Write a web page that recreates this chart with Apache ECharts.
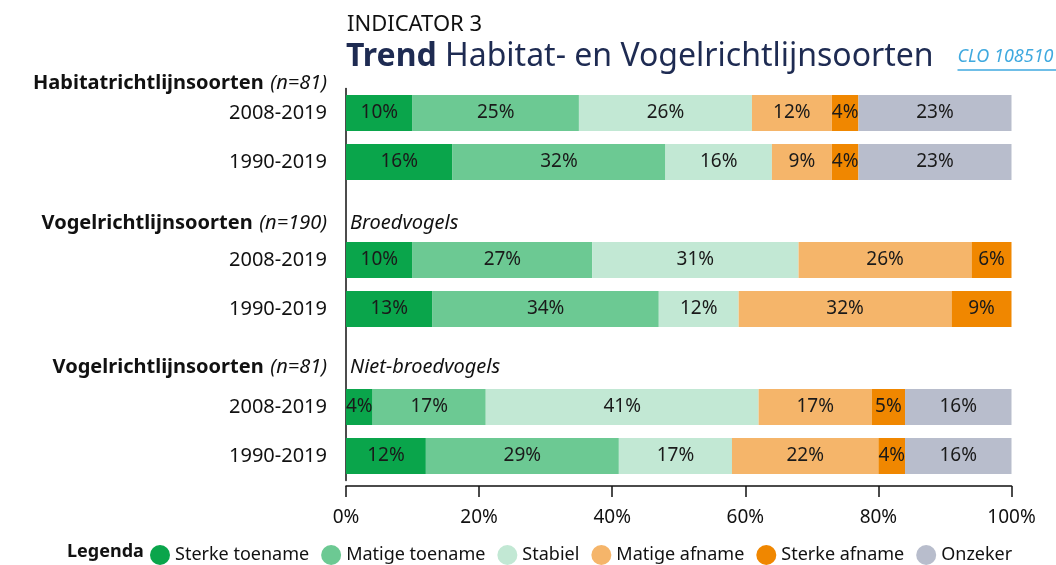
<!DOCTYPE html>
<html>
<head>
<meta charset="utf-8">
<script src="https://cdn.jsdelivr.net/npm/echarts@6/dist/echarts.min.js"></script>
<style>
  html, body { margin: 0; padding: 0; background: #fff; }
  #chart { width: 1056px; height: 565px; }
</style>
</head>
<body>
<div id="chart"></div>
<script>
// rows from top to bottom, '' = empty slot between the groups
const periods = ['2008-2019', '1990-2019', '', '2008-2019', '1990-2019', '', '2008-2019', '1990-2019']

const trendNames = ['Sterke toename', 'Matige toename', 'Stabiel', 'Matige afname', 'Sterke afname', 'Onzeker']
const trendColors = ['#0aa54b', '#6cc993', '#c2e8d4', '#f5b56a', '#f08700', '#b8bdcc']

// percentages per trend class, one value per row
const sterkeToename = [10, 16, '-', 10, 13, '-', 4, 12]
const matigeToename = [25, 32, '-', 27, 34, '-', 17, 29]
const stabiel = [26, 16, '-', 31, 12, '-', 41, 17]
const matigeAfname = [12, 9, '-', 26, 32, '-', 17, 22]
const sterkeAfname = [4, 4, '-', 6, 9, '-', 5, 4]
const onzeker = [23, 23, '-', '-', '-', '-', 16, 16]

const xTicks = [0, 20, 40, 60, 80, 100]

const groupTitles = [
    { name: 'Habitatrichtlijnsoorten', n: '(n=81)', sub: '' },
    { name: 'Vogelrichtlijnsoorten', n: '(n=190)', sub: 'Broedvogels' },
    { name: 'Vogelrichtlijnsoorten', n: '(n=81)', sub: 'Niet-broedvogels' }
]

const FONT = '"Noto Sans", sans-serif'
const chart = echarts.init(document.getElementById('chart'))

const seriesValues = [sterkeToename, matigeToename, stabiel, matigeAfname, sterkeAfname, onzeker]
const series = trendNames.map((name, i) => ({
    name: name,
    type: 'bar',
    stack: 'trend',
    barWidth: 36,
    data: seriesValues[i],
    itemStyle: { color: trendColors[i] },
    label: {
        show: true,
        position: 'inside',
        formatter: '{c}%',
        color: '#1a1a1a',
        fontSize: 19,
        fontFamily: FONT,
        textBorderWidth: 0
    }
}))

// header positions (y of text centre)
const headerY = [82, 222, 366]
const graphic = []
groupTitles.forEach((g, i) => {
    graphic.push({
        type: 'text',
        right: 1056 - 327,
        top: headerY[i] - 9,
        style: {
            text: '{b|' + g.name + '}  {i|' + g.n + '}',
            rich: {
                b: { fontFamily: FONT, fontSize: 20, fontWeight: 'bold', fill: '#111' },
                i: { fontFamily: FONT, fontSize: 20, fontStyle: 'italic', fill: '#111' }
            }
        }
    })
    if (g.sub) {
        graphic.push({
            type: 'text',
            left: 350,
            top: headerY[i] - 9,
            style: { text: g.sub, font: 'italic 20px ' + FONT, fill: '#111' }
        })
    }
})
graphic.push({
    type: 'text',
    left: 67,
    top: 543,
    style: { text: 'Legenda', font: 'bold 18px ' + FONT, fill: '#111' }
})
// CLO link with underline
graphic.push({
    type: 'group',
    left: 955,
    top: 48,
    children: [
        { type: 'text', style: { text: 'CLO 108510', font: 'italic 18px ' + FONT, fill: '#3fa9df' } },
        { type: 'line', shape: { x1: 0, y1: 22, x2: 101, y2: 22 }, style: { stroke: '#3fa9df', lineWidth: 1.5 } }
    ]
})

const option = {
    animation: false,
    title: [
        {
            text: 'INDICATOR 3',
            left: 342,
            top: 9,
            textStyle: { fontFamily: FONT, fontSize: 22, fontWeight: 'normal', color: '#111' }
        },
        {
            text: '{b|Trend} Habitat- en Vogelrichtlijnsoorten',
            left: 341,
            top: 36,
            textStyle: {
                fontFamily: FONT, fontSize: 32, fontWeight: 'normal', color: '#1e2b52',
                rich: { b: { fontFamily: FONT, fontSize: 32, fontWeight: 'bold', color: '#1e2b52' } }
            }
        }
    ],
    legend: {
        left: 145,
        top: 540,
        icon: 'circle',
        itemWidth: 20,
        itemHeight: 20,
        itemGap: 12,
        data: trendNames,
        selectedMode: false,
        textStyle: { fontFamily: FONT, fontSize: 18, color: '#111' }
    },
    grid: { left: 346, right: 44.5, top: 88.5, bottom: 84.5 },
    xAxis: {
        type: 'value',
        min: 0,
        max: 100,
        interval: 20,
        offset: 5.5,
        axisLine: { show: true, lineStyle: { color: '#111', width: 1.5 } },
        axisTick: { show: true, length: 11, lineStyle: { color: '#111', width: 1.5 } },
        splitLine: { show: false },
        axisLabel: {
            formatter: v => (xTicks.includes(v) ? v + '%' : ''),
            fontFamily: FONT,
            fontSize: 19,
            color: '#111',
            margin: 22
        }
    },
    yAxis: {
        type: 'category',
        inverse: true,
        data: periods,
        axisLine: { show: true, lineStyle: { color: '#111', width: 1.5 } },
        axisTick: { show: false },
        axisLabel: { fontFamily: FONT, fontSize: 20, color: '#111', margin: 19 }
    },
    graphic: graphic,
    series: series
}

chart.setOption(option)
</script>
</body>
</html>
